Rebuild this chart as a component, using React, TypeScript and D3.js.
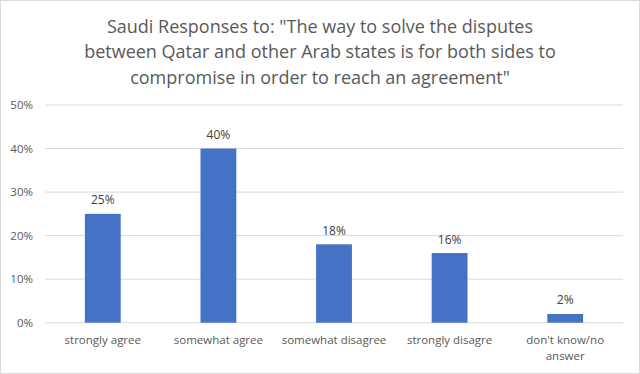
import { useRef, useEffect } from 'react';
import * as d3 from 'd3';

const categories = ['strongly agree', 'somewhat agree', 'somewhat disagree', 'strongly disagre', "don't know/no answer"];
const categoryLines = [['strongly agree'], ['somewhat agree'], ['somewhat disagree'], ['strongly disagre'], ["don't know/no", 'answer']];
const values = [25, 40, 18, 16, 2];
const yTicks = [0, 10, 20, 30, 40, 50];
const titleLines = [
    'Saudi Responses to: "The way to solve the disputes',
    'between Qatar and other Arab states is for both sides to',
    'compromise in order to reach an agreement"',
];

const W = 640;
const H = 374;
const FONT = "'Open Sans', 'Noto Sans', sans-serif";

const App = () => {
    const ref = useRef<SVGSVGElement>(null);

    useEffect(() => {
        const svg = d3.select(ref.current);
        svg.selectAll('*').remove();

        const margin = { top: 105, right: 17, bottom: 51.3, left: 45 };
        const innerWidth = W - margin.left - margin.right;
        const innerHeight = H - margin.top - margin.bottom;

        svg.append('rect')
            .attr('x', 0.5).attr('y', 0.5)
            .attr('width', W - 1).attr('height', H - 1)
            .attr('fill', '#fff')
            .attr('stroke', '#d9d9d9');

        // title
        svg.append('g')
            .selectAll('text')
            .data(titleLines)
            .enter().append('text')
            .attr('x', W / 2)
            .attr('y', (d, i) => 32.5 + i * 25.7)
            .attr('text-anchor', 'middle')
            .attr('font-family', FONT)
            .attr('font-size', 18)
            .attr('fill', '#595959')
            .text(d => d);

        const g = svg.append('g')
            .attr('transform', `translate(${margin.left},${margin.top})`);

        const x = d3.scaleBand()
            .domain(categories)
            .range([0, innerWidth])
            .paddingInner(0.69)
            .paddingOuter(0.345);

        const y = d3.scaleLinear()
            .domain([0, 50])
            .range([innerHeight, 0]);

        // gridlines
        g.append('g')
            .selectAll('line')
            .data(yTicks)
            .enter().append('line')
            .attr('x1', 0)
            .attr('x2', innerWidth)
            .attr('y1', d => y(d))
            .attr('y2', d => y(d))
            .attr('stroke', '#d9d9d9')
            .attr('stroke-width', 1);

        // y labels
        g.append('g')
            .selectAll('text')
            .data(yTicks)
            .enter().append('text')
            .attr('x', -12)
            .attr('y', d => y(d))
            .attr('dy', '0.35em')
            .attr('text-anchor', 'end')
            .attr('font-family', FONT)
            .attr('font-size', 11.5)
            .attr('fill', '#595959')
            .text(d => `${d}%`);

        // bars
        g.selectAll('.bar')
            .data(values)
            .enter().append('rect')
            .attr('class', 'bar')
            .attr('x', (d, i) => x(categories[i])!)
            .attr('y', d => y(d))
            .attr('width', x.bandwidth())
            .attr('height', d => innerHeight - y(d))
            .attr('fill', '#4472c4');

        // data labels
        g.append('g')
            .selectAll('text')
            .data(values)
            .enter().append('text')
            .attr('x', (d, i) => x(categories[i])! + x.bandwidth() / 2)
            .attr('y', d => y(d) - 9.5)
            .attr('text-anchor', 'middle')
            .attr('font-family', FONT)
            .attr('font-size', 12)
            .attr('fill', '#404040')
            .text(d => `${d}%`);

        // category labels
        const cat = g.append('g')
            .selectAll('text')
            .data(categoryLines)
            .enter().append('text')
            .attr('x', (d, i) => x(categories[i])! + x.bandwidth() / 2)
            .attr('y', innerHeight + 21.5)
            .attr('text-anchor', 'middle')
            .attr('font-family', FONT)
            .attr('font-size', 11.5)
            .attr('fill', '#595959');

        cat.selectAll('tspan')
            .data((d, i) => d.map(line => ({ line, i })))
            .enter().append('tspan')
            .attr('x', d => x(categories[d.i])! + x.bandwidth() / 2)
            .attr('dy', (d, j) => (j === 0 ? 0 : 16))
            .text(d => d.line);
    }, []);

    return (
        <svg
            ref={ref}
            width={W}
            height={H}
            style={{ position: 'absolute', left: 0, top: 0, display: 'block' }}
        ></svg>
    );
};

export default App;
